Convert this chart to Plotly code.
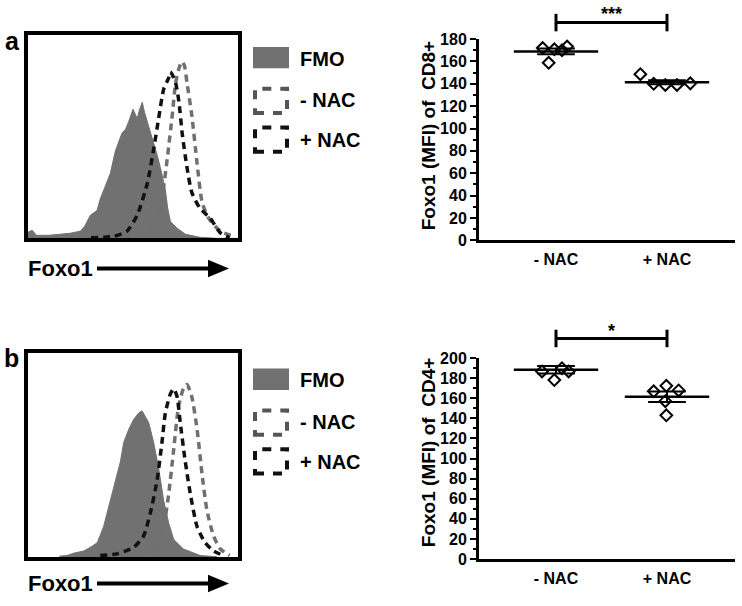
import numpy as np
import plotly.graph_objects as go

W, H = 742, 606

# ---------------- data ----------------
groups = ["- NAC", "+ NAC"]
cd8_minus_nac = [172.0, 158.8, 170.9, 170.0, 173.3]
cd8_plus_nac = [148.6, 140.0, 139.0, 139.0, 140.4]
cd4_minus_nac = [186.5, 200.6, 178.0, 189.7, 186.5]
cd4_plus_nac = [166.8, 172.3, 157.0, 142.9, 167.7]

cd8_sig = "***"
cd4_sig = "*"

# histogram curves (Foxo1 intensity, % of max)
a_fmo_x = [0, 2, 4, 10, 15, 20, 24.9, 27, 29.7, 32.9, 34.4, 36.5, 39.2, 41.6, 43, 44.8, 46.4, 48, 50, 51, 52, 53,
           54.4, 55.5, 56.8, 58.5, 60, 61.5, 63, 64.5, 65.4, 66.5, 67.8, 71, 75, 82, 90, 100]
a_fmo_y = [3, 4, 1.5, 1.5, 2, 2.5, 3.5, 6, 11.4, 13.8, 19.4, 25, 32, 43, 47, 52, 53.6, 57.6, 63.6, 61, 59, 63,
           67, 62, 57.6, 52, 46.4, 41, 35, 29, 24, 15, 8.3, 5, 2, 0.5, 0, 0]
a_minus_x = [40, 50, 56.8, 61.6, 64, 66.4, 68.7, 70.3, 72, 73.3, 74.5, 75.7, 78, 80.5, 82.9, 86, 91.6, 98]
a_minus_y = [0.5, 1, 2, 8, 21, 40, 60.7, 76.6, 84, 87, 85, 76.6, 60.7, 37, 17.8, 10, 3.5, 1]
a_plus_x = [30, 40.8, 47.1, 52, 56.8, 60, 62.2, 64.6, 67, 67.8, 68.7, 70.3, 71.9, 73.5, 75.7, 78, 82, 86.7, 91.6, 96]
a_plus_y = [0.3, 1, 3.5, 11.4, 27, 45, 59, 73.4, 79, 82, 80.6, 76.6, 67, 51, 35, 22.6, 14.6, 10, 2.7, 0.3]

b_fmo_x = [15, 18.6, 22, 26.5, 30, 32.9, 34.5, 36, 37.5, 39.2, 41.6, 44, 45.6, 48, 50.3, 52.7, 54.3, 55.9, 57.5,
           59.8, 62.2, 64.6, 67, 69.4, 74, 82, 90]
b_fmo_y = [0.5, 0.8, 2, 3, 5, 7, 11, 15, 21, 27.8, 37.3, 46.8, 56.3, 62.7, 67.5, 70.6, 71.7, 69, 65.9,
           56.3, 43.7, 27.8, 16.7, 8.7, 4, 0.8, 0.2]
b_minus_x = [50, 55, 61.4, 64.6, 67, 69.4, 71.7, 74, 75.7, 78, 80.5, 82.9, 85.2, 88.4, 91.6, 96]
b_minus_y = [0.3, 0.8, 5.5, 15, 31, 53, 73.8, 82.5, 84.6, 78.6, 62.7, 40.5, 23, 10.3, 4, 0.8]
b_plus_x = [34.4, 42.4, 50.3, 55, 58.2, 61.4, 63.8, 65.4, 67.8, 69.4, 71, 72.5, 74.9, 77.3, 80.5, 84.4, 88.4, 93]
b_plus_y = [0.8, 1.6, 4.8, 10.3, 21.4, 37.3, 56.3, 70.6, 80, 82.5, 78.6, 65.9, 46.8, 31, 15, 7, 3, 0.8]

# ---------------- style ----------------
jit_minus = [-0.12, -0.066, -0.015, 0.054, 0.1]
jit_plus_cd8 = [-0.24, -0.12, -0.015, 0.09, 0.21]
jit_minus_cd4 = [-0.126, -0.066, -0.015, 0.054, 0.114]
jit_plus_cd4 = [-0.12, -0.006, -0.015, -0.006, 0.105]

FONT = "Liberation Sans, Arial, sans-serif"
FMO_COL = "#717171"
MINUS_COL = "#707070"
PLUS_COL = "#111111"


def px(x):
    return x / W


def py(y):
    return 1 - y / H


def b(t):
    return f"<b>{t}</b>"


fig = go.Figure()
shapes = []
annotations = []

# ---------- histogram panels ----------
hist_panels = [
    ("x", "y", (a_fmo_x, a_fmo_y), (a_minus_x, a_minus_y), (a_plus_x, a_plus_y)),
    ("x2", "y2", (b_fmo_x, b_fmo_y), (b_minus_x, b_minus_y), (b_plus_x, b_plus_y)),
]
for xa, ya, fmo, mn, pl in hist_panels:
    fig.add_trace(go.Scatter(x=fmo[0], y=fmo[1], xaxis=xa, yaxis=ya, mode="lines", fill="tozeroy",
                             fillcolor=FMO_COL, line=dict(color=FMO_COL, width=1), showlegend=False,
                             hoverinfo="skip"))
    fig.add_trace(go.Scatter(x=mn[0], y=mn[1], xaxis=xa, yaxis=ya, mode="lines",
                             line=dict(color=MINUS_COL, width=3.5, dash="7px,5px", shape="spline", smoothing=0.6),
                             showlegend=False, hoverinfo="skip"))
    fig.add_trace(go.Scatter(x=pl[0], y=pl[1], xaxis=xa, yaxis=ya, mode="lines",
                             line=dict(color=PLUS_COL, width=3.5, dash="7px,5px", shape="spline", smoothing=0.6),
                             showlegend=False, hoverinfo="skip"))

hist_ax = dict(range=[0, 100], showgrid=False, zeroline=False, showticklabels=False, ticks="",
               showline=True, mirror=True, linecolor="black", linewidth=4)
fig.update_layout(
    xaxis=dict(domain=[px(28), px(238)], anchor="y", **hist_ax),
    yaxis=dict(domain=[py(237), py(28)], anchor="x", **hist_ax),
    xaxis2=dict(domain=[px(28), px(238)], anchor="y2", **hist_ax),
    yaxis2=dict(domain=[py(565), py(355)], anchor="x2", **hist_ax),
)

# ---------- legends, labels, arrows ----------
for dy in (0, 331):
    shapes.append(dict(type="rect", xref="paper", yref="paper", x0=px(253), x1=px(289),
                       y0=py(62 + dy), y1=py(40 + dy), fillcolor=FMO_COL, line=dict(width=0)))
    shapes.append(dict(type="rect", xref="paper", yref="paper", x0=px(255), x1=px(287),
                       y0=py(108 + dy), y1=py(83 + dy), line=dict(color="#555555", width=4, dash="9px,9px")))
    shapes.append(dict(type="rect", xref="paper", yref="paper", x0=px(255), x1=px(287),
                       y0=py(148 + dy), y1=py(123 + dy), line=dict(color="#111111", width=4, dash="9px,9px")))
    for txt, yc in (("FMO", 52), ("- NAC", 95), ("+ NAC", 136)):
        annotations.append(dict(text=b(txt), xref="paper", yref="paper", x=px(298), y=py(yc + dy),
                                xanchor="left", yanchor="middle", showarrow=False,
                                font=dict(family=FONT, size=20, color="black")))

for yc in (268, 592):
    annotations.append(dict(text=b("Foxo1"), xref="paper", yref="paper", x=px(26), y=py(yc),
                            xanchor="left", yanchor="middle", showarrow=False,
                            font=dict(family=FONT, size=22, color="black")))
    shapes.append(dict(type="line", xref="paper", yref="paper", x0=px(97), x1=px(212),
                       y0=py(yc), y1=py(yc), line=dict(color="black", width=4)))
    shapes.append(dict(type="path", xref="paper", yref="paper",
                       path=f"M {px(208)},{py(yc - 9)} L {px(229)},{py(yc)} L {px(208)},{py(yc + 9)} Z",
                       fillcolor="black", line=dict(width=0)))

for txt, xc, yc in (("a", 12, 34), ("b", 11, 360)):
    annotations.append(dict(text=b(txt), xref="paper", yref="paper", x=px(xc), y=py(yc),
                            xanchor="center", yanchor="middle", showarrow=False,
                            font=dict(family=FONT, size=25, color="black")))

# ---------- scatter panels ----------
xr = [(479 - 556) / 111, (735 - 556) / 111]
scatter_panels = [
    ("x3", "y3", cd8_minus_nac, cd8_plus_nac, jit_minus, jit_plus_cd8, 180, 239, 32,
     "Foxo1 (MFI) of  CD8+", 131, cd8_sig, 15, 6, 24, 6),
    ("x4", "y4", cd4_minus_nac, cd4_plus_nac, jit_minus_cd4, jit_plus_cd4, 200, 567, 360,
     "Foxo1 (MFI) of  CD4+", 457, cd4_sig, 340, 331, 349, 332),
]
for (xa, ya, vm, vp, jm, jp, ymax, ybot, ytop, title, tcy, sig, brk_y, brk_t0, brk_t1, star_y) in scatter_panels:
    for i, (vals, jit) in enumerate(((vm, jm), (vp, jp))):
        vals = np.array(vals, dtype=float)
        mean = vals.mean()
        sem = vals.std(ddof=1) / np.sqrt(len(vals))
        fig.add_trace(go.Scatter(x=[i + j for j in jit], y=vals, xaxis=xa, yaxis=ya, mode="markers",
                                 marker=dict(symbol="diamond-open", size=9, color="black",
                                             line=dict(color="black", width=2)),
                                 showlegend=False, hoverinfo="skip", cliponaxis=False))
        # mean line
        fig.add_trace(go.Scatter(x=[i - 0.38, i + 0.38], y=[mean, mean], xaxis=xa, yaxis=ya, mode="lines",
                                 line=dict(color="black", width=2.5), showlegend=False, hoverinfo="skip",
                                 cliponaxis=False))
        # SEM error bar
        fig.add_trace(go.Scatter(x=[i - 0.17, i + 0.17, None, i, i, None, i - 0.17, i + 0.17],
                                 y=[mean + sem, mean + sem, None, mean + sem, mean - sem, None,
                                    mean - sem, mean - sem],
                                 xaxis=xa, yaxis=ya, mode="lines", line=dict(color="black", width=2),
                                 showlegend=False, hoverinfo="skip", cliponaxis=False))
    # significance bracket
    shapes.append(dict(type="line", xref=xa, yref="paper", x0=0, x1=1, y0=py(brk_y), y1=py(brk_y),
                       line=dict(color="black", width=3)))
    for xx in (0, 1):
        shapes.append(dict(type="line", xref=xa, yref="paper", x0=xx, x1=xx, y0=py(brk_t0), y1=py(brk_t1),
                           line=dict(color="black", width=3)))
    annotations.append(dict(text=b(sig), xref=xa, yref="paper", x=0.5, y=py(star_y), xanchor="center",
                            yanchor="middle", showarrow=False,
                            font=dict(family=FONT, size=18, color="black")))
    annotations.append(dict(text=b(title), xref="paper", yref="paper", x=px(428), y=py(tcy), textangle=-90,
                            xanchor="center", yanchor="middle", showarrow=False,
                            font=dict(family=FONT, size=19, color="black")))

    ticks_y = list(range(0, ymax + 1, 20))
    fig.layout[xa.replace("x", "xaxis")] = dict(
        domain=[px(479), px(735)], anchor=ya, range=xr, tickvals=[0, 1], ticktext=[b(g) for g in groups],
        showgrid=False, zeroline=False, showline=True, linecolor="black", linewidth=3,
        ticks="outside", ticklen=3, tickcolor="rgba(0,0,0,0)",
        tickfont=dict(family=FONT, size=16, color="black"))
    fig.layout[ya.replace("y", "yaxis")] = dict(
        domain=[py(ybot), py(ytop)], anchor=xa, range=[0, ymax],
        tickvals=ticks_y, ticktext=[b(t) for t in ticks_y],
        showgrid=False, zeroline=False, showline=True, linecolor="black", linewidth=3,
        ticks="outside", ticklen=6, tickwidth=2, tickcolor="black",
        minor=dict(dtick=10, tick0=0, ticks="outside", ticklen=3, tickwidth=2, tickcolor="black"),
        tickfont=dict(family=FONT, size=16, color="black"))

fig.update_layout(
    width=W, height=H, margin=dict(l=0, r=0, t=0, b=0),
    paper_bgcolor="white", plot_bgcolor="white",
    shapes=shapes, annotations=annotations, showlegend=False,
)

fig.write_html("out.html", config={"displayModeBar": False},
               post_script="document.body.style.margin='0px';document.body.style.overflow='hidden';")
